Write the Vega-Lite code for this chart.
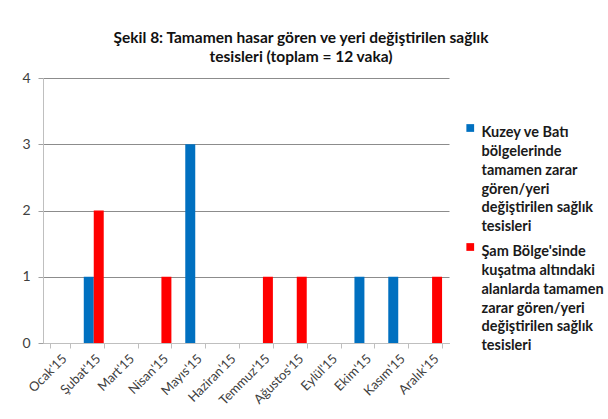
{
  "$schema": "https://vega.github.io/schema/vega-lite/v6.json",
  "width": 406,
  "height": 265,
  "autosize": {"type": "none"},
  "padding": {"left": 43, "top": 78, "right": 159, "bottom": 76},
  "background": "white",
  "title": {
    "text": ["Şekil 8: Tamamen hasar gören ve yeri değiştirilen sağlık", "tesisleri (toplam = 12 vaka)"],
    "font": "Lato",
    "fontSize": 15.5,
    "fontWeight": "bold",
    "color": "#111111",
    "anchor": "middle",
    "dx": 55,
    "offset": 6,
    "lineHeight": 19
  },
  "data": {
    "values": [
      {"ay": "Ocak'15", "seri": "Kuzey", "vaka": 0},
      {"ay": "Ocak'15", "seri": "Şam", "vaka": 0},
      {"ay": "Şubat'15", "seri": "Kuzey", "vaka": 1},
      {"ay": "Şubat'15", "seri": "Şam", "vaka": 2},
      {"ay": "Mart'15", "seri": "Kuzey", "vaka": 0},
      {"ay": "Mart'15", "seri": "Şam", "vaka": 0},
      {"ay": "Nisan'15", "seri": "Kuzey", "vaka": 0},
      {"ay": "Nisan'15", "seri": "Şam", "vaka": 1},
      {"ay": "Mayıs'15", "seri": "Kuzey", "vaka": 3},
      {"ay": "Mayıs'15", "seri": "Şam", "vaka": 0},
      {"ay": "Haziran'15", "seri": "Kuzey", "vaka": 0},
      {"ay": "Haziran'15", "seri": "Şam", "vaka": 0},
      {"ay": "Temmuz'15", "seri": "Kuzey", "vaka": 0},
      {"ay": "Temmuz'15", "seri": "Şam", "vaka": 1},
      {"ay": "Ağustos'15", "seri": "Kuzey", "vaka": 0},
      {"ay": "Ağustos'15", "seri": "Şam", "vaka": 1},
      {"ay": "Eylül'15", "seri": "Kuzey", "vaka": 0},
      {"ay": "Eylül'15", "seri": "Şam", "vaka": 0},
      {"ay": "Ekim'15", "seri": "Kuzey", "vaka": 1},
      {"ay": "Ekim'15", "seri": "Şam", "vaka": 0},
      {"ay": "Kasım'15", "seri": "Kuzey", "vaka": 1},
      {"ay": "Kasım'15", "seri": "Şam", "vaka": 0},
      {"ay": "Aralık'15", "seri": "Kuzey", "vaka": 0},
      {"ay": "Aralık'15", "seri": "Şam", "vaka": 1}
    ]
  },
  "mark": {"type": "bar"},
  "encoding": {
    "x": {
      "field": "ay",
      "type": "nominal",
      "sort": null,
      "title": null,
      "scale": {"paddingInner": 0.41, "paddingOuter": 0.205},
      "axis": {
        "labelAngle": -45,
        "labelFont": "Lato",
        "labelFontSize": 13,
        "labelColor": "#404040",
        "tickBand": "extent",
        "tickColor": "#bfbfbf",
        "tickSize": 5,
        "domainColor": "#bfbfbf",
        "labelPadding": 4
      }
    },
    "xOffset": {"field": "seri", "type": "nominal", "sort": ["Kuzey", "Şam"], "scale": {"paddingInner": 0, "paddingOuter": 0}},
    "y": {
      "field": "vaka",
      "type": "quantitative",
      "title": null,
      "scale": {"domain": [0, 4], "nice": false},
      "axis": {
        "values": [0, 1, 2, 3, 4],
        "labelFont": "Lato",
        "labelFontSize": 14,
        "labelColor": "#404040",
        "tickColor": "#a0a0a0",
        "tickSize": 5,
        "domainColor": "#bfbfbf",
        "gridColor": "#8c8c8c",
        "labelPadding": 8
      }
    },
    "color": {
      "field": "seri",
      "type": "nominal",
      "sort": ["Kuzey", "Şam"],
      "scale": {"domain": ["Kuzey", "Şam"], "range": ["#0070C0", "#FF0000"]},
      "legend": {
        "title": null,
        "orient": "none",
        "legendX": 420,
        "legendY": 41,
        "symbolType": "square",
        "symbolSize": 60,
        "symbolStrokeWidth": 0,
        "labelFont": "Lato",
        "labelFontSize": 14.5,
        "labelFontWeight": "bold",
        "labelColor": "#1a1a1a",
        "labelLimit": 200,
        "labelOffset": 4,
        "rowPadding": 4,
        "labelExpr": "datum.value == 'Kuzey' ? ['Kuzey ve Batı', 'bölgelerinde', 'tamamen zarar', 'gören/yeri', 'değiştirilen sağlık', 'tesisleri'] : ['Şam Bölge\\'sinde', 'kuşatma altındaki', 'alanlarda tamamen', 'zarar gören/yeri', 'değiştirilen sağlık', 'tesisleri']",
        "encode": {
          "labels": {"update": {"lineHeight": {"value": 18.8}, "baseline": {"value": "top"}}},
          "symbols": {"update": {"yc": {"value": 9}}}
        }
      }
    }
  },
  "config": {
    "view": {"stroke": null}
  }
}
